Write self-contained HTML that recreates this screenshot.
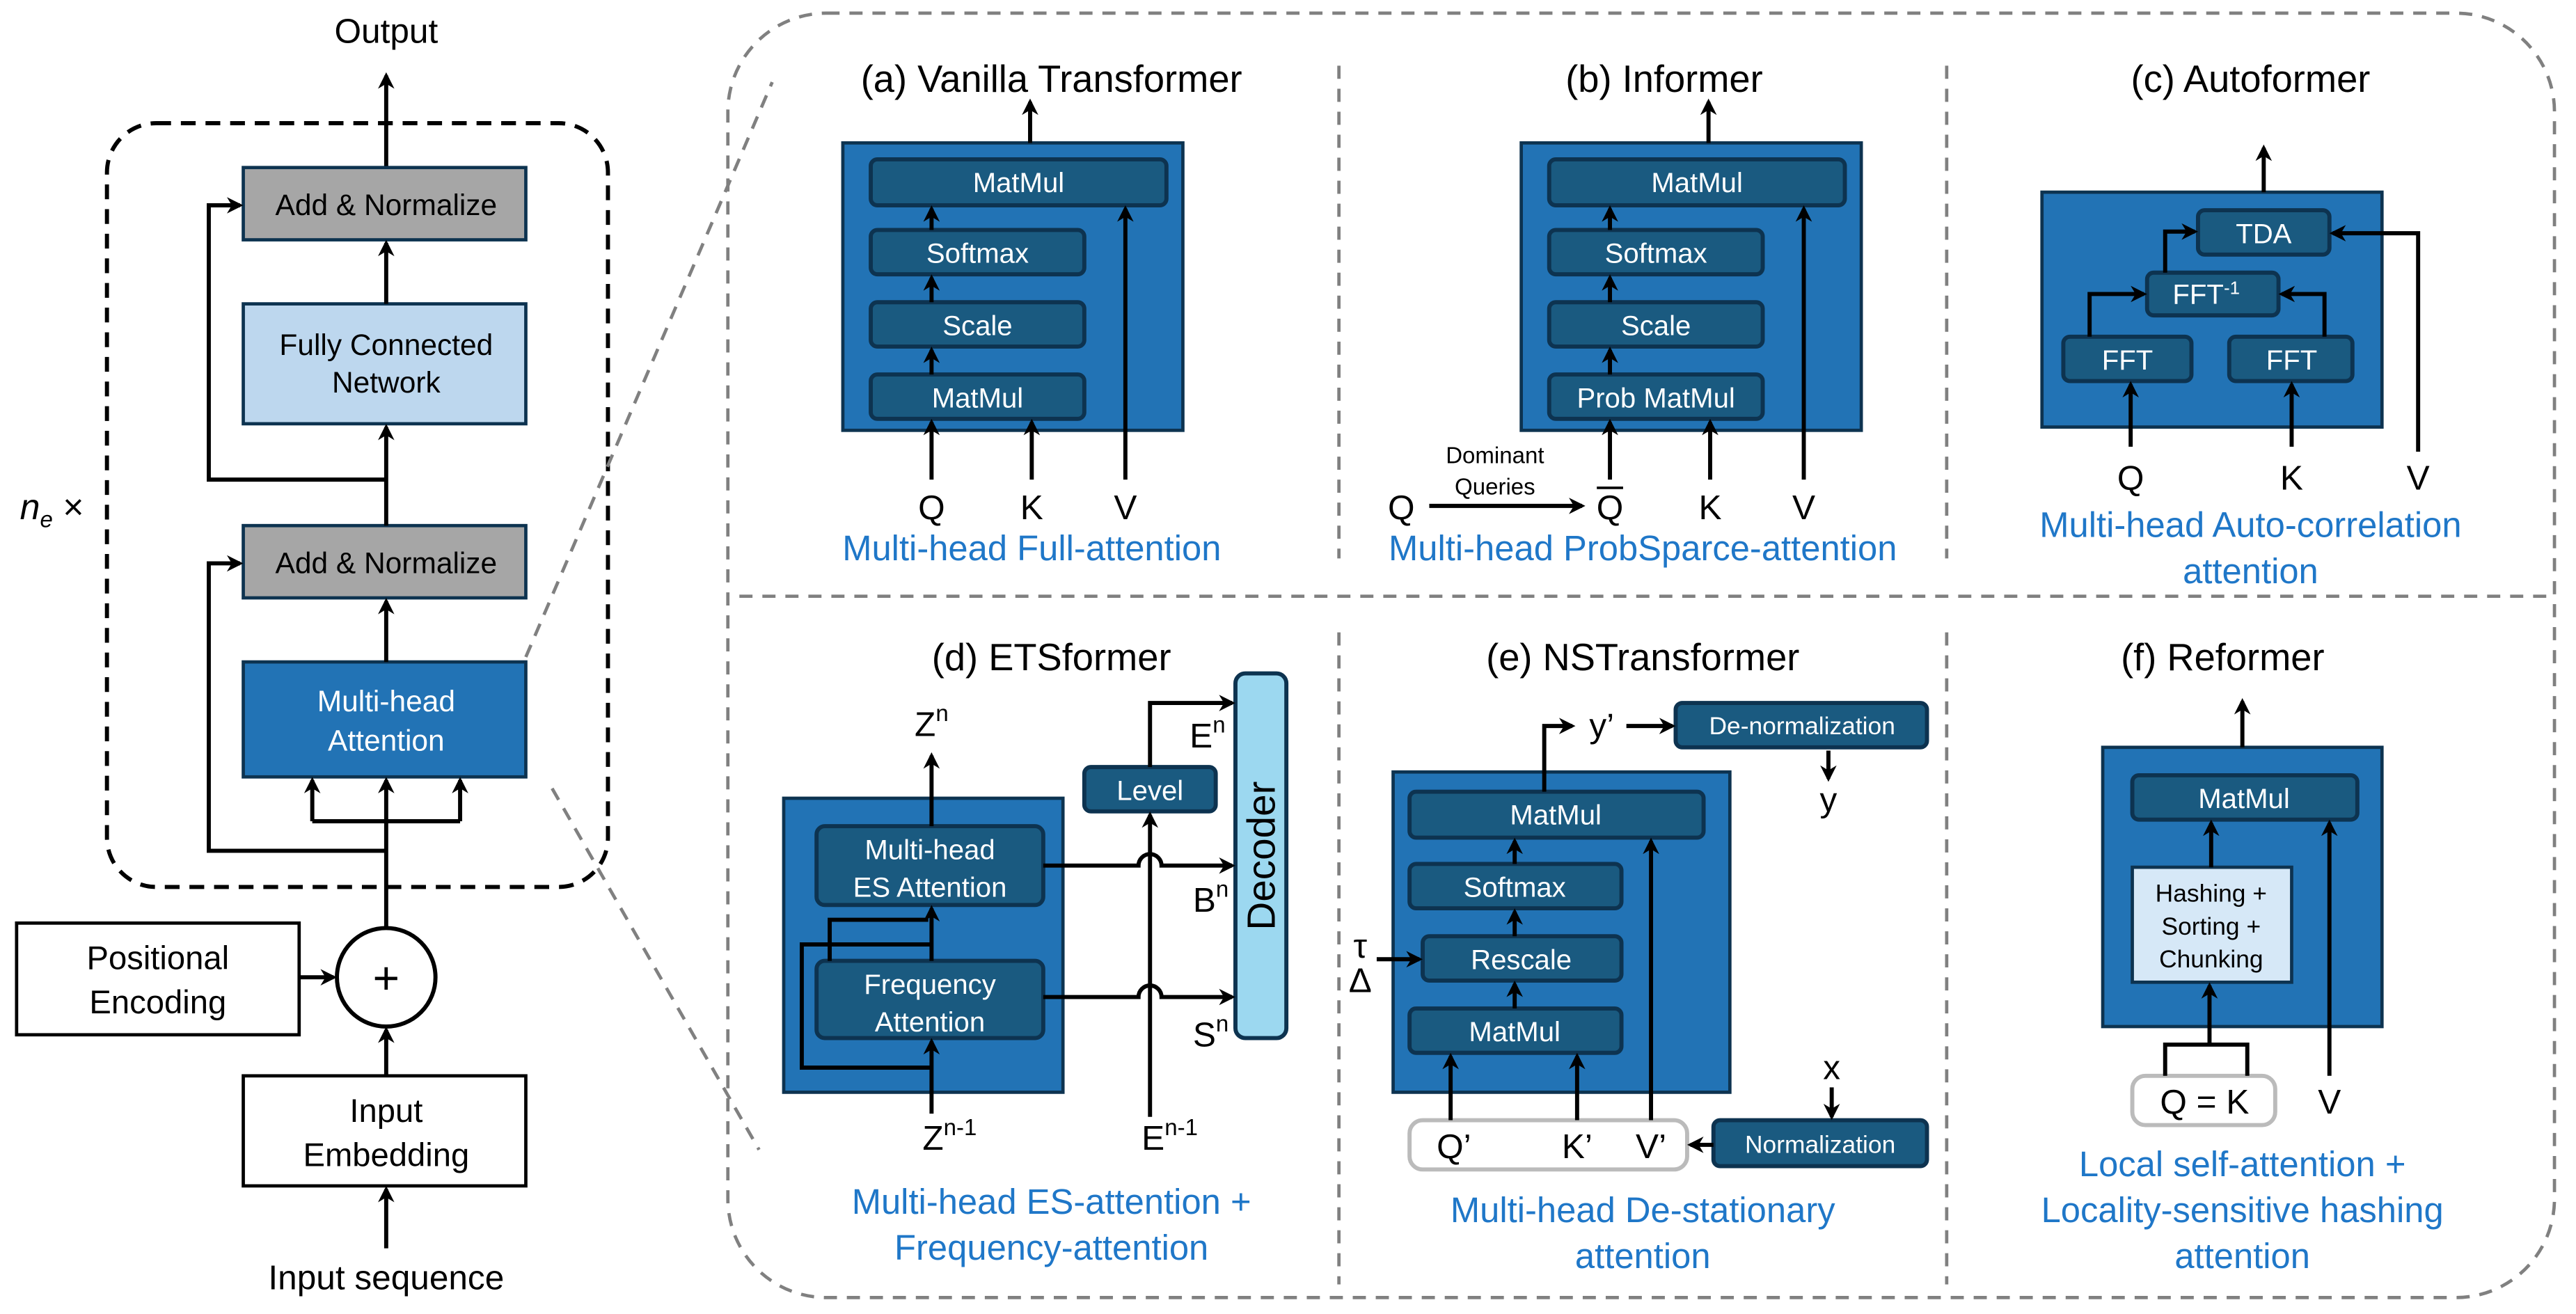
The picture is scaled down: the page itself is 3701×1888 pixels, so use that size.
<!DOCTYPE html>
<html><head><meta charset="utf-8"><style>html,body{margin:0;padding:0;background:#fff}svg{display:block}text{font-family:"Liberation Sans",sans-serif}</style></head><body>
<svg width="3701" height="1888" viewBox="0 0 1568 800" xmlns="http://www.w3.org/2000/svg">
<defs><marker id="a" markerWidth="10" markerHeight="10" refX="8" refY="5" orient="auto" markerUnits="userSpaceOnUse"><path d="M0,0 L10,5 L0,10 L3,5 z" fill="#000"/></marker></defs>
<g font-size="18" text-anchor="middle">
<text x="235" y="26" font-size="21">Output</text>
<line x1="235" y1="102" x2="235" y2="46" stroke="#000" stroke-width="2.5" marker-end="url(#a)"/>
<rect x="65" y="75" width="305" height="465" rx="30" fill="none" stroke="#000" stroke-width="2.5" stroke-dasharray="9,6"/>
<rect x="148" y="102" width="172" height="44" fill="#a6a6a6" stroke="#0d3350" stroke-width="2"/><text x="235" y="131">Add &amp; Normalize</text>
<rect x="148" y="185" width="172" height="73" fill="#bdd7ee" stroke="#0d3350" stroke-width="2"/><text x="235" y="216">Fully Connected</text><text x="235" y="239">Network</text>
<rect x="148" y="320" width="172" height="44" fill="#a6a6a6" stroke="#0d3350" stroke-width="2"/><text x="235" y="349">Add &amp; Normalize</text>
<rect x="148" y="403" width="172" height="70" fill="#2273b5" stroke="#0d3350" stroke-width="2"/><text x="235" y="433" fill="#fff">Multi-head</text><text x="235" y="457" fill="#fff">Attention</text>
<g stroke="#000" stroke-width="2.5" fill="none">
<line x1="235" y1="185" x2="235" y2="148" marker-end="url(#a)"/>
<line x1="235" y1="320" x2="235" y2="260" marker-end="url(#a)"/>
<line x1="235" y1="403" x2="235" y2="366" marker-end="url(#a)"/>
<polyline points="235,292 127,292 127,125 146,125" marker-end="url(#a)"/>
<polyline points="235,518 127,518 127,343 146,343" marker-end="url(#a)"/>
<line x1="235" y1="565" x2="235" y2="475" marker-end="url(#a)"/>
<polyline points="190,500 280,500"/>
<line x1="190" y1="500" x2="190" y2="475" marker-end="url(#a)"/>
<line x1="280" y1="500" x2="280" y2="475" marker-end="url(#a)"/>
<circle cx="235" cy="595" r="30" fill="#fff"/>
<line x1="182" y1="595" x2="203" y2="595" marker-end="url(#a)"/>
<line x1="235" y1="655" x2="235" y2="627" marker-end="url(#a)"/>
<line x1="235" y1="760" x2="235" y2="724" marker-end="url(#a)"/>
</g>
<text x="235" y="605" font-size="28">+</text>
<text x="12" y="316" font-size="22" text-anchor="start"><tspan font-style="italic">n</tspan><tspan font-size="14" dy="5" font-style="italic">e</tspan><tspan dy="-5"> ×</tspan></text>
<rect x="10" y="562" width="172" height="68" fill="#fff" stroke="#000" stroke-width="2"/><text x="96" y="590" font-size="20">Positional</text><text x="96" y="617" font-size="20">Encoding</text>
<rect x="148" y="655" width="172" height="67" fill="#fff" stroke="#000" stroke-width="2"/><text x="235" y="683" font-size="20">Input</text><text x="235" y="710" font-size="20">Embedding</text>
<text x="235" y="785" font-size="21">Input sequence</text>
<g stroke="#808080" stroke-width="2" stroke-dasharray="8,6" fill="none">
<line x1="320" y1="400" x2="470" y2="50"/><line x1="336" y1="480" x2="462" y2="700"/>
<rect x="443" y="8" width="1112" height="782" rx="60"/>
<line x1="815" y1="40" x2="815" y2="340"/><line x1="1185" y1="40" x2="1185" y2="340"/>
<line x1="450" y1="363" x2="1555" y2="363"/>
<line x1="815" y1="385" x2="815" y2="782"/><line x1="1185" y1="385" x2="1185" y2="782"/>
</g>
</g>
<g font-size="17" text-anchor="middle">
<text x="640" y="56" font-size="23">(a) Vanilla Transformer</text>
<text x="1013" y="56" font-size="23">(b) Informer</text>
<text x="1370" y="56" font-size="23">(c) Autoformer</text>
<g id="ab">
<rect x="513" y="87" width="207" height="175" fill="#2273b5" stroke="#0d3350" stroke-width="2"/>
<g fill="#1a5a80" stroke="#0d3350" stroke-width="2.5"><rect x="530" y="97" width="180" height="28" rx="4"/><rect x="530" y="140" width="130" height="27" rx="4"/><rect x="530" y="184" width="130" height="27" rx="4"/><rect x="530" y="228" width="130" height="27" rx="4"/></g>
<g fill="#fff"><text x="620" y="117">MatMul</text><text x="595" y="160">Softmax</text><text x="595" y="204">Scale</text></g>
<g stroke="#000" stroke-width="2.5"><line x1="627" y1="87" x2="627" y2="62" marker-end="url(#a)"/><line x1="567" y1="140" x2="567" y2="127" marker-end="url(#a)"/><line x1="567" y1="184" x2="567" y2="169" marker-end="url(#a)"/><line x1="567" y1="228" x2="567" y2="213" marker-end="url(#a)"/>
<line x1="567" y1="292" x2="567" y2="257" marker-end="url(#a)"/><line x1="628" y1="292" x2="628" y2="257" marker-end="url(#a)"/><line x1="685" y1="292" x2="685" y2="127" marker-end="url(#a)"/></g>
<g font-size="21"><text x="628" y="316">K</text><text x="685" y="316">V</text></g>
</g>
<use href="#ab" x="413"/>
<text x="595" y="248" fill="#fff">MatMul</text><text x="1008" y="248" fill="#fff">Prob MatMul</text>
<text x="567" y="316" font-size="21">Q</text>
<text x="853" y="316" font-size="21">Q</text><text x="980" y="316" font-size="21">Q</text><line x1="972" y1="297" x2="988" y2="297" stroke="#000" stroke-width="1.5"/>
<line x1="870" y1="308" x2="963" y2="308" stroke="#000" stroke-width="2.5" marker-end="url(#a)"/>
<text x="910" y="282" font-size="14">Dominant</text><text x="910" y="301" font-size="14">Queries</text>
<g fill="#1f77c8" font-size="21.5"><text x="628" y="341">Multi-head Full-attention</text><text x="1000" y="341">Multi-head ProbSparce-attention</text><text x="1370" y="327">Multi-head Auto-correlation</text><text x="1370" y="355">attention</text></g>
<rect x="1243" y="117" width="207" height="143" fill="#2273b5" stroke="#0d3350" stroke-width="2"/>
<g fill="#1a5a80" stroke="#0d3350" stroke-width="2.5"><rect x="1338" y="128" width="80" height="27" rx="4"/><rect x="1307" y="166" width="80" height="26" rx="4"/><rect x="1256" y="205" width="78" height="27" rx="4"/><rect x="1357" y="205" width="75" height="27" rx="4"/></g>
<g fill="#fff"><text x="1378" y="148">TDA</text><text x="1343" y="185">FFT<tspan font-size="11" dy="-6">-1</tspan></text><text x="1295" y="225">FFT</text><text x="1395" y="225">FFT</text></g>
<g stroke="#000" stroke-width="2.5" fill="none"><line x1="1378" y1="117" x2="1378" y2="90" marker-end="url(#a)"/><line x1="1297" y1="272" x2="1297" y2="234" marker-end="url(#a)"/><line x1="1395" y1="272" x2="1395" y2="234" marker-end="url(#a)"/>
<polyline points="1472,275 1472,142 1420,142" marker-end="url(#a)"/><polyline points="1272,205 1272,179 1305,179" marker-end="url(#a)"/><polyline points="1415,205 1415,179 1389,179" marker-end="url(#a)"/><polyline points="1318,166 1318,141 1336,141" marker-end="url(#a)"/></g>
<g font-size="21"><text x="1297" y="298">Q</text><text x="1395" y="298">K</text><text x="1472" y="298">V</text></g>
<text x="640" y="408" font-size="23">(d) ETSformer</text>
<rect x="477" y="486" width="170" height="179" fill="#2273b5" stroke="#0d3350" stroke-width="2"/>
<g fill="#1a5a80" stroke="#0d3350" stroke-width="2.5"><rect x="497" y="503" width="138" height="48" rx="5"/><rect x="497" y="585" width="138" height="47" rx="5"/><rect x="660" y="467" width="80" height="27" rx="4"/></g>
<rect x="752" y="410" width="31" height="222" rx="6" fill="#9cd8f0" stroke="#0d3350" stroke-width="2.5"/>
<text transform="translate(776,521) rotate(-90)" font-size="24">Decoder</text>
<g fill="#fff"><text x="566" y="523">Multi-head</text><text x="566" y="546">ES Attention</text><text x="566" y="605">Frequency</text><text x="566" y="628">Attention</text><text x="700" y="487">Level</text></g>
<g stroke="#000" stroke-width="2.5" fill="none"><line x1="567" y1="503" x2="567" y2="460" marker-end="url(#a)"/><line x1="567" y1="678" x2="567" y2="634" marker-end="url(#a)"/>
<polyline points="567,650 488,650 488,575 567,575"/><line x1="567" y1="585" x2="567" y2="553" marker-end="url(#a)"/><polyline points="505,585 505,560 565,560"/>
<line x1="700" y1="680" x2="700" y2="496" marker-end="url(#a)"/><polyline points="700,467 700,428 750,428" marker-end="url(#a)"/>
<path d="M635,527 H693 A7,7 0 0 1 707,527 H750" marker-end="url(#a)"/><path d="M635,607 H693 A7,7 0 0 1 707,607 H750" marker-end="url(#a)"/></g>
<g font-size="21"><text x="567" y="448">Z<tspan font-size="14" dy="-9">n</tspan></text><text x="735" y="455">E<tspan font-size="14" dy="-9">n</tspan></text><text x="737" y="555">B<tspan font-size="14" dy="-9">n</tspan></text><text x="737" y="637">S<tspan font-size="14" dy="-9">n</tspan></text><text x="578" y="700">Z<tspan font-size="14" dy="-9">n-1</tspan></text><text x="712" y="700">E<tspan font-size="14" dy="-9">n-1</tspan></text></g>
<g fill="#1f77c8" font-size="21.5"><text x="640" y="739">Multi-head ES-attention +</text><text x="640" y="767">Frequency-attention</text></g>
<text x="1000" y="408" font-size="23">(e) NSTransformer</text>
<rect x="848" y="470" width="205" height="195" fill="#2273b5" stroke="#0d3350" stroke-width="2"/>
<g fill="#1a5a80" stroke="#0d3350" stroke-width="2.5"><rect x="858" y="482" width="179" height="28" rx="4"/><rect x="858" y="526" width="129" height="27" rx="4"/><rect x="866" y="570" width="121" height="27" rx="4"/><rect x="858" y="614" width="129" height="27" rx="4"/><rect x="1020" y="428" width="153" height="27" rx="4"/><rect x="1043" y="682" width="130" height="28" rx="4"/></g>
<g fill="#fff"><text x="947" y="502">MatMul</text><text x="922" y="546">Softmax</text><text x="926" y="590">Rescale</text><text x="922" y="634">MatMul</text><text x="1097" y="447" font-size="15">De-normalization</text><text x="1108" y="702" font-size="15">Normalization</text></g>
<rect x="858" y="682" width="169" height="30" rx="8" fill="#fff" stroke="#bbb" stroke-width="2.5"/>
<g font-size="21"><text x="885" y="705">Q’</text><text x="960" y="705">K’</text><text x="1005" y="705">V’</text><text x="975" y="449">y’</text><text x="1113" y="494">y</text><text x="1115" y="657">x</text><text x="828" y="583">τ</text><text x="828" y="604">Δ</text></g>
<g stroke="#000" stroke-width="2.5" fill="none"><line x1="922" y1="526" x2="922" y2="512" marker-end="url(#a)"/><line x1="922" y1="570" x2="922" y2="555" marker-end="url(#a)"/><line x1="922" y1="614" x2="922" y2="599" marker-end="url(#a)"/>
<line x1="883" y1="682" x2="883" y2="643" marker-end="url(#a)"/><line x1="960" y1="682" x2="960" y2="643" marker-end="url(#a)"/><line x1="1005" y1="682" x2="1005" y2="512" marker-end="url(#a)"/>
<line x1="838" y1="584" x2="864" y2="584" marker-end="url(#a)"/><polyline points="940,482 940,442 957,442" marker-end="url(#a)"/><line x1="990" y1="442" x2="1018" y2="442" marker-end="url(#a)"/>
<line x1="1113" y1="457" x2="1113" y2="474" marker-end="url(#a)"/><line x1="1115" y1="662" x2="1115" y2="680" marker-end="url(#a)"/><line x1="1043" y1="697" x2="1029" y2="697" marker-end="url(#a)"/></g>
<g fill="#1f77c8" font-size="21.5"><text x="1000" y="744">Multi-head De-stationary</text><text x="1000" y="772">attention</text></g>
<text x="1353" y="408" font-size="23">(f) Reformer</text>
<rect x="1280" y="455" width="170" height="170" fill="#2273b5" stroke="#0d3350" stroke-width="2"/>
<rect x="1298" y="472" width="137" height="27" rx="4" fill="#1a5a80" stroke="#0d3350" stroke-width="2.5"/><text x="1366" y="492" fill="#fff">MatMul</text>
<rect x="1298" y="528" width="97" height="70" fill="#d6e8f7" stroke="#0d3350" stroke-width="2"/>
<g font-size="15"><text x="1346" y="549">Hashing +</text><text x="1346" y="569">Sorting +</text><text x="1346" y="589">Chunking</text></g>
<rect x="1298" y="655" width="87" height="30" rx="8" fill="#fff" stroke="#bbb" stroke-width="2.5"/><text x="1342" y="678" font-size="21">Q = K</text><text x="1418" y="678" font-size="21">V</text>
<g stroke="#000" stroke-width="2.5" fill="none"><line x1="1365" y1="455" x2="1365" y2="427" marker-end="url(#a)"/><line x1="1346" y1="528" x2="1346" y2="501" marker-end="url(#a)"/><line x1="1418" y1="655" x2="1418" y2="501" marker-end="url(#a)"/>
<polyline points="1318,655 1318,636 1368,636 1368,655"/><line x1="1345" y1="636" x2="1345" y2="600" marker-end="url(#a)"/></g>
<g fill="#1f77c8" font-size="21.5"><text x="1365" y="716">Local self-attention +</text><text x="1365" y="744">Locality-sensitive hashing</text><text x="1365" y="772">attention</text></g>
</g>
</svg>
</body></html>
